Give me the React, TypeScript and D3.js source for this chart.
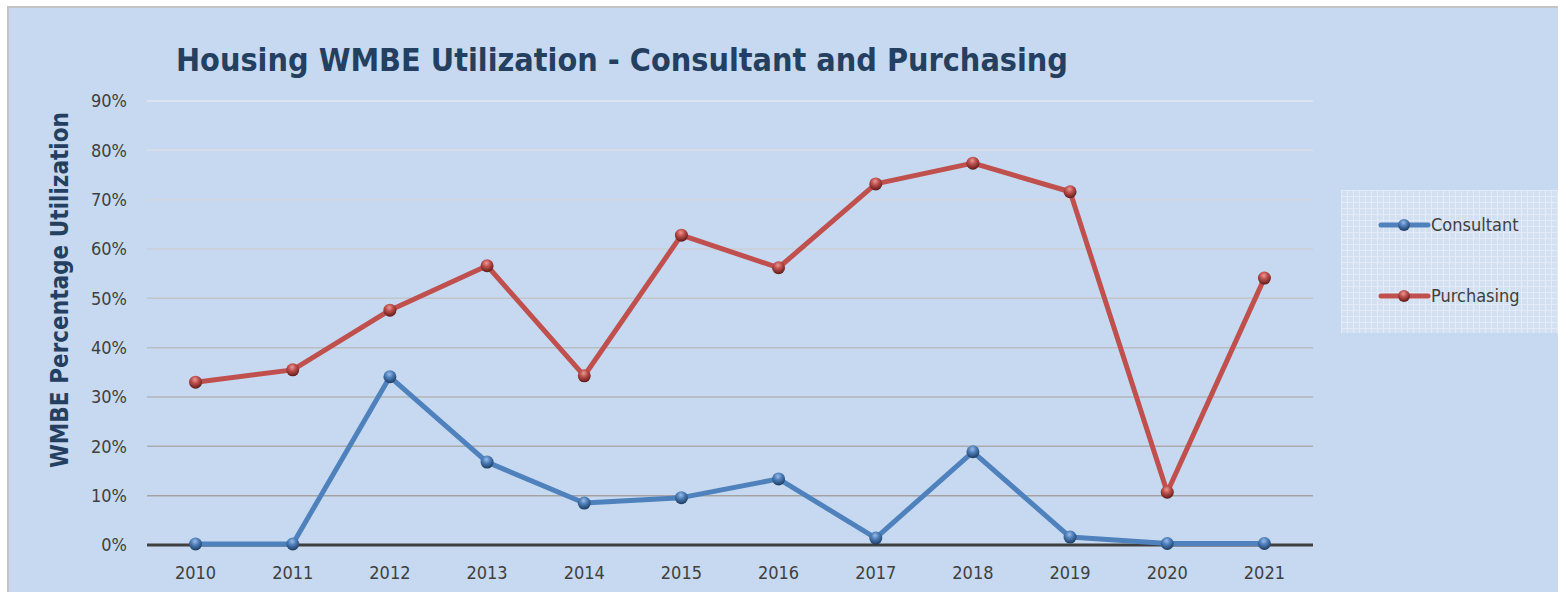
import React, { useEffect, useRef } from "react";
import * as d3 from "d3";

const years = ["2010", "2011", "2012", "2013", "2014", "2015", "2016", "2017", "2018", "2019", "2020", "2021"];
const consultant = [0.2, 0.2, 34.1, 16.8, 8.5, 9.6, 13.4, 1.4, 18.9, 1.6, 0.3, 0.3];
const purchasing = [33.0, 35.5, 47.6, 56.6, 34.3, 62.8, 56.2, 73.2, 77.4, 71.6, 10.7, 54.1];
const yTicks = [0, 10, 20, 30, 40, 50, 60, 70, 80, 90];
const seriesNames = ["Consultant", "Purchasing"];

const W = 1558;
const H = 592;

export default function App() {
  const svgRef = useRef<SVGSVGElement>(null);

  useEffect(() => {
    const svg = d3.select(svgRef.current);
    svg.selectAll("*").remove();

    const colors = { Consultant: "#4f81bd", Purchasing: "#c0504d" };
    const dark = { Consultant: "#1c3a5e", Purchasing: "#5e1a18" };
    const light = { Consultant: "#9dbbe2", Purchasing: "#e89a97" };

    const defs = svg.append("defs");
    seriesNames.forEach(s => {
      const g = defs.append("radialGradient")
        .attr("id", "ball-" + s)
        .attr("cx", "45%").attr("cy", "30%").attr("r", "70%");
      g.append("stop").attr("offset", "0%").attr("stop-color", light[s]);
      g.append("stop").attr("offset", "40%").attr("stop-color", colors[s]);
      g.append("stop").attr("offset", "100%").attr("stop-color", dark[s]);
    });

    const pat = defs.append("pattern")
      .attr("id", "legendgrid")
      .attr("width", 6).attr("height", 6)
      .attr("patternUnits", "userSpaceOnUse");
    pat.append("rect").attr("width", 6).attr("height", 6).attr("fill", "#d2e0f2");
    pat.append("path").attr("d", "M0 0.5H6M0.5 0V6")
      .attr("stroke", "#e2ebf7").attr("stroke-width", 1);

    // background + frame
    svg.append("rect")
      .attr("x", 8).attr("y", 7)
      .attr("width", W + 10).attr("height", H + 10)
      .attr("fill", "#c6d9f0")
      .attr("stroke", "#c3c3c3").attr("stroke-width", 2);

    const margin = { top: 101, right: 245, bottom: 47, left: 147 };
    const chartWidth = W - margin.left - margin.right;
    const chartHeight = H - margin.top - margin.bottom;

    const g = svg.append("g")
      .attr("transform", `translate(${margin.left},${margin.top})`);

    const x = d3.scaleBand().domain(years).range([0, chartWidth]).padding(0);
    const y = d3.scaleLinear().domain([0, 90]).range([chartHeight, 0]);

    // gridlines, fading toward the top
    const gridColor = d3.interpolateRgb("#a3a3a3", "#e1e8f1");
    g.selectAll(".grid")
      .data(yTicks.filter(t => t > 0))
      .join("line")
      .attr("x1", 0).attr("x2", chartWidth)
      .attr("y1", d => y(d)).attr("y2", d => y(d))
      .attr("stroke", d => gridColor((d - 10) / 80))
      .attr("stroke-width", 1.5);

    // zero axis
    g.append("line")
      .attr("x1", 0).attr("x2", chartWidth)
      .attr("y1", y(0)).attr("y2", y(0))
      .attr("stroke", "#404040").attr("stroke-width", 3);

    const tickFont = "'DejaVu Sans Condensed', 'DejaVu Sans'";

    // y tick labels
    g.selectAll(".ytick")
      .data(yTicks)
      .join("text")
      .attr("x", -20)
      .attr("y", d => y(d))
      .attr("dy", "0.36em")
      .attr("text-anchor", "end")
      .attr("font-family", tickFont)
      .attr("font-size", 18)
      .attr("fill", "#404040")
      .text(d => d + "%");

    // x tick labels
    g.selectAll(".xtick")
      .data(years)
      .join("text")
      .attr("x", d => x(d) + x.bandwidth() / 2)
      .attr("y", chartHeight + 34)
      .attr("text-anchor", "middle")
      .attr("font-family", tickFont)
      .attr("font-size", 18)
      .attr("fill", "#404040")
      .text(d => d);

    const line = d3.line<number>()
      .x((d, i) => x(years[i]) + x.bandwidth() / 2)
      .y(d => y(d));

    const data = { Consultant: consultant, Purchasing: purchasing };

    seriesNames.forEach(s => {
      g.append("path")
        .datum(data[s])
        .attr("d", line)
        .attr("fill", "none")
        .attr("stroke", colors[s])
        .attr("stroke-width", 5)
        .attr("stroke-linejoin", "round");
    });
    seriesNames.forEach(s => {
      g.selectAll(".pt-" + s)
        .data(data[s])
        .join("circle")
        .attr("cx", (d, i) => x(years[i]) + x.bandwidth() / 2)
        .attr("cy", d => y(d))
        .attr("r", 6.5)
        .attr("fill", `url(#ball-${s})`);
    });

    // title
    svg.append("text")
      .attr("x", 176).attr("y", 71)
      .attr("font-family", tickFont)
      .attr("font-weight", "bold")
      .attr("font-size", 32)
      .attr("textLength", 892)
      .attr("lengthAdjust", "spacingAndGlyphs")
      .attr("fill", "#243f60")
      .text("Housing WMBE Utilization - Consultant and Purchasing");

    // y axis title
    svg.append("text")
      .attr("transform", "translate(68,290) rotate(-90)")
      .attr("text-anchor", "middle")
      .attr("font-family", tickFont)
      .attr("font-weight", "bold")
      .attr("font-size", 25)
      .attr("textLength", 356)
      .attr("lengthAdjust", "spacingAndGlyphs")
      .attr("fill", "#243f60")
      .text("WMBE Percentage Utilization");

    // legend
    const lg = svg.append("g").attr("transform", "translate(1341,190)");
    lg.append("rect")
      .attr("width", 220).attr("height", 143)
      .attr("fill", "url(#legendgrid)");
    seriesNames.forEach((s, i) => {
      const ly = 35 + i * 71;
      lg.append("line")
        .attr("x1", 40).attr("x2", 87)
        .attr("y1", ly).attr("y2", ly)
        .attr("stroke", colors[s]).attr("stroke-width", 5)
        .attr("stroke-linecap", "round");
      lg.append("circle")
        .attr("cx", 63).attr("cy", ly).attr("r", 6)
        .attr("fill", `url(#ball-${s})`);
      lg.append("text")
        .attr("x", 90).attr("y", ly)
        .attr("dy", "0.36em")
        .attr("font-family", tickFont)
        .attr("font-size", 18)
        .attr("fill", "#404040")
        .text(s);
    });
  }, []);

  return (
    <svg
      ref={svgRef}
      width={W}
      height={H}
      style={{ position: "absolute", left: 0, top: 0 }}
    />
  );
}
